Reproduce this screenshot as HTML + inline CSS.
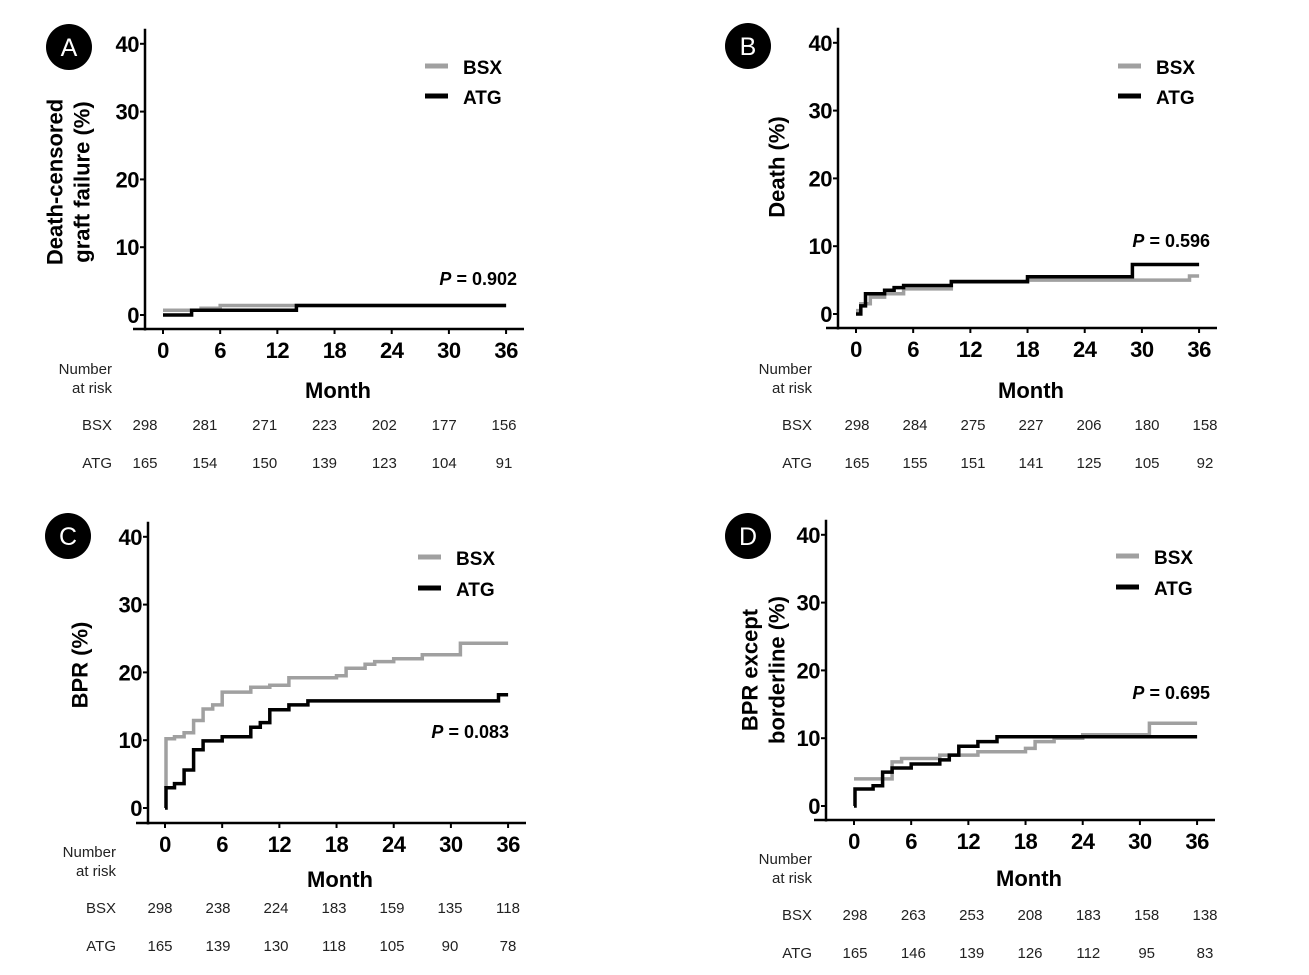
<!DOCTYPE html>
<html><head><meta charset="utf-8"><style>
html,body{margin:0;padding:0;background:#fff}
svg{display:block;font-family:"Liberation Sans",Arial,sans-serif}
.t{font-weight:bold;font-size:22px;letter-spacing:-0.5px}
.n{font-size:15px;fill:#222}
</style></head><body>
<svg id="s" width="1309" height="975" viewBox="0 0 1309 975"></svg>
<script>
const P=[
{x0:163,y0:315,ya:145,xa:329,circ:[69,47,'A'],tl:358,mo:398,narx:112,nar:[374,393],rows:[430,468],n0:145,n6:504,leg:[425,66,96],yl:[[55,'Death-censored'],[82,'graft failure  (%)']],ylc:182,p:[517,285,'0.902'],
 atg:[165,154,150,139,123,104,91],nb:[298,281,271,223,202,177,156],
 B:[[0,0.7],[4,1.0],[6,1.4],[36,1.4]],A:[[0,0],[3,0.7],[14,1.4],[36,1.4]]},
{x0:856,y0:314,ya:838,xa:328,circ:[748,46,'B'],tl:357,mo:398,narx:812,nar:[374,393],rows:[430,468],n0:857,n6:1205,leg:[1118,66,96],yl:[[777,'Death (%)']],ylc:167,p:[1210,247,'0.596'],
 atg:[165,155,151,141,125,105,92],nb:[298,284,275,227,206,180,158],
 B:[[0,0.5],[0.5,1.5],[1.5,2.5],[3,3],[5,3.7],[10,4.7],[18,5],[30,5],[35,5.6],[36,5.6]],A:[[0,0],[0.5,1.2],[1,3],[3,3.5],[4,3.9],[5,4.2],[10,4.8],[18,5.5],[29,7.3],[36,7.3]]},
{x0:165,y0:808,ya:148,xa:823,circ:[68,536,'C'],tl:852,mo:887,narx:116,nar:[857,876],rows:[913,951],n0:160,n6:508,leg:[418,557,588],yl:[[80,'BPR (%)']],ylc:665,p:[509,738,'0.083'],
 atg:[165,139,130,118,105,90,78],nb:[298,238,224,183,159,135,118],
 B:[[0,3],[0.1,10.2],[1,10.5],[2,11.1],[3,12.9],[4,14.6],[5,15.2],[6,17.1],[9,17.8],[11,18.1],[13,19.2],[18,19.5],[19,20.6],[21,21.2],[22,21.6],[24,22],[27,22.6],[31,24.3],[36,24.3]],
 A:[[0,0],[0.1,3],[1,3.6],[2,5.6],[3,8.6],[4,9.9],[6,10.5],[9,11.9],[10,12.6],[11,14.5],[13,15.2],[15,15.8],[35,16.7],[36,16.7]]},
{x0:854,y0:806,ya:826,xa:820,circ:[748,536,'D'],tl:849,mo:886,narx:812,nar:[864,883],rows:[920,958],n0:855,n6:1205,leg:[1116,556,587],yl:[[750,'BPR except'],[777,'borderline (%)']],ylc:670,p:[1210,699,'0.695'],
 atg:[165,146,139,126,112,95,83],nb:[298,263,253,208,183,158,138],
 B:[[0,4],[2,4],[4,6.5],[5,7],[9,7.5],[13,8],[18,8.5],[19,9.5],[21,10],[24,10.5],[31,12.2],[36,12.2]],
 A:[[0,0],[0.1,2.5],[2,3],[3,5],[4,5.6],[6,6.2],[9,6.8],[10,7.5],[11,8.8],[13,9.5],[15,10.2],[36,10.2]]}
];
let h='';
const sx=9.53,sy=6.78;
function step(p,d,c){let s='';d.forEach((q,i)=>{const X=p.x0+q[0]*sx,Y=p.y0-q[1]*sy;s+=(i?`H${X.toFixed(1)}V${Y.toFixed(1)}`:`M${X.toFixed(1)} ${Y.toFixed(1)}`)});
 return `<path d="${s}" fill="none" stroke="${c}" stroke-width="3.5"/>`;}
P.forEach(p=>{
 const top=p.y0-40*sy-15;
 h+=`<line x1="${p.ya}" y1="${top}" x2="${p.ya}" y2="${p.xa+1.5}" stroke="#000" stroke-width="2.5"/>`;
 h+=`<line x1="${p.ya-12}" y1="${p.xa}" x2="${p.x0+361}" y2="${p.xa}" stroke="#000" stroke-width="2.5"/>`;
 for(let v=0;v<=40;v+=10){const y=p.y0-v*sy;h+=`<line x1="${p.ya-5}" y1="${y}" x2="${p.ya}" y2="${y}" stroke="#000" stroke-width="2"/><text class="t" x="${p.ya-6}" y="${y+8}" text-anchor="end">${v}</text>`;}
 for(let m=0;m<=36;m+=6){const x=p.x0+m*sx;h+=`<line x1="${x}" y1="${p.xa}" x2="${x}" y2="${p.xa+5}" stroke="#000" stroke-width="2"/><text class="t" x="${x}" y="${p.tl}" text-anchor="middle">${m}</text>`;}
 h+=`<text x="${p.x0+175}" y="${p.mo}" text-anchor="middle" style="font-weight:bold;font-size:22px">Month</text>`;
 h+=`<circle cx="${p.circ[0]}" cy="${p.circ[1]}" r="23" fill="#000"/><text x="${p.circ[0]}" y="${p.circ[1]+9}" text-anchor="middle" fill="#fff" style="font-size:25px">${p.circ[2]}</text>`;
 h+=`<text class="n" x="${p.narx}" y="${p.nar[0]}" text-anchor="end">Number</text><text class="n" x="${p.narx}" y="${p.nar[1]}" text-anchor="end">at risk</text>`;
 h+=`<text class="n" x="${p.narx}" y="${p.rows[0]}" text-anchor="end">BSX</text><text class="n" x="${p.narx}" y="${p.rows[1]}" text-anchor="end">ATG</text>`;
 for(let i=0;i<7;i++){const x=p.n0+(p.n6-p.n0)*i/6;h+=`<text class="n" x="${x}" y="${p.rows[0]}" text-anchor="middle">${p.nb[i]}</text><text class="n" x="${x}" y="${p.rows[1]}" text-anchor="middle">${p.atg[i]}</text>`;}
 h+=`<line x1="${p.leg[0]}" y1="${p.leg[1]}" x2="${p.leg[0]+23}" y2="${p.leg[1]}" stroke="#a0a0a0" stroke-width="5"/><text x="${p.leg[0]+38}" y="${p.leg[1]+8}" style="font-weight:bold;font-size:19px">BSX</text>`;
 h+=`<line x1="${p.leg[0]}" y1="${p.leg[2]}" x2="${p.leg[0]+23}" y2="${p.leg[2]}" stroke="#000" stroke-width="5"/><text x="${p.leg[0]+38}" y="${p.leg[2]+8}" style="font-weight:bold;font-size:19px">ATG</text>`;
 p.yl.forEach(l=>{h+=`<text x="${l[0]}" y="${p.ylc}" transform="rotate(-90 ${l[0]} ${p.ylc})" text-anchor="middle" dominant-baseline="central" style="font-weight:bold;font-size:22px">${l[1]}</text>`;});
 h+=`<text x="${p.p[0]}" y="${p.p[1]}" text-anchor="end" style="font-weight:bold;font-size:18px"><tspan font-style="italic">P</tspan> = ${p.p[2]}</text>`;
 h+=step(p,p.B,'#a0a0a0')+step(p,p.A,'#000');
});
document.getElementById('s').innerHTML=h;
</script>
</body></html>
